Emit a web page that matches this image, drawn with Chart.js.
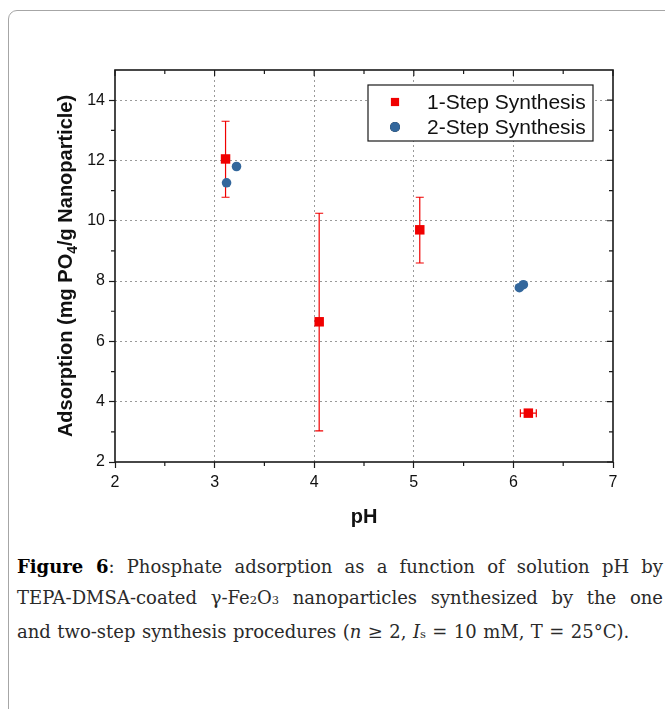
<!DOCTYPE html>
<html>
<head>
<meta charset="utf-8">
<script src="https://cdn.jsdelivr.net/npm/chart.js@4.4.1/dist/chart.umd.min.js"></script>
<style>
  html, body { margin: 0; padding: 0; background: #fff; }
  body { width: 665px; height: 709px; position: relative; overflow: hidden; }
  .frame { position: absolute; left: 8px; top: 10px; width: 720px; height: 760px; border: 1.5px solid #a6a6a6; border-radius: 9px; }
  #wrap { position: absolute; left: 0; top: 0; width: 665px; height: 540px; }
  .caption { position: absolute; left: 17px; top: 551px; width: 646px; font-family: "DejaVu Serif", serif; font-size: 18px; word-spacing: 0.7px; line-height: 31px; color: #2a2a2a; }
  .caption b { color: #000; }
  .caption .j { text-align: justify; text-align-last: justify; }
  .caption sub { font-size: 11.5px; vertical-align: 0; }
</style>
</head>
<body>
<div class="frame"></div>
<div id="wrap"><canvas id="chart" width="665" height="540"></canvas></div>
<div class="caption">
  <div class="j"><b>Figure 6</b>: Phosphate adsorption as a function of solution pH by</div>
  <div class="j">TEPA-DMSA-coated γ-Fe<sub>2</sub>O<sub>3</sub> nanoparticles synthesized by the one</div>
  <div>and two-step synthesis procedures (<i>n</i> ≥ 2, <i>I</i><sub>s</sub> = 10 mM, T = 25°C).</div>
</div>
<script>
// values
const seriesNames = ['1-Step Synthesis', '2-Step Synthesis'];
const oneStepPH = [3.11, 4.05, 5.06, 6.15];
const oneStepAds = [12.05, 6.65, 9.7, 3.62];
const oneStepLow = [10.78, 3.03, 8.6, 3.62];
const oneStepHigh = [13.3, 10.25, 10.78, 3.62];
const oneStepPHErr = [0, 0, 0, 0.08];
const twoStepPH = [3.12, 3.22, 6.06, 6.1];
const twoStepAds = [11.26, 11.8, 7.78, 7.88];
const xMinorTicks = [2.5, 3.5, 4.5, 5.5, 6.5];
const xMajorTicks = [2, 3, 4, 5, 6, 7];
const yMinorTicks = [3, 5, 7, 9, 11, 13];
const yMajorTicks = [2, 4, 6, 8, 10, 12, 14];

const RED = '#f00000';
const BLUE = '#33679c';
const AXIS = '#1a1a1a';
const GRID = '#9a9a9a';

function pts(xs, ys) {
  return xs.map((x, i) => ({ x, y: ys[i] }));
}

// error bars for the 1-step series
const errorBars = {
  id: 'errorBars',
  beforeDatasetsDraw(chart) {
    const { ctx, scales: { x, y } } = chart;
    ctx.save();
    ctx.strokeStyle = RED;
    ctx.lineWidth = 1.2;
    const cap = 4;
    oneStepPH.forEach((ph, i) => {
      const px = x.getPixelForValue(ph);
      const py = y.getPixelForValue(oneStepAds[i]);
      if (oneStepHigh[i] !== oneStepLow[i]) {
        const top = y.getPixelForValue(oneStepHigh[i]);
        const bot = y.getPixelForValue(oneStepLow[i]);
        ctx.beginPath();
        ctx.moveTo(px, top); ctx.lineTo(px, bot);
        ctx.moveTo(px - cap, top); ctx.lineTo(px + cap, top);
        ctx.moveTo(px - cap, bot); ctx.lineTo(px + cap, bot);
        ctx.stroke();
      }
      if (oneStepPHErr[i] > 0) {
        const l = x.getPixelForValue(ph - oneStepPHErr[i]);
        const r = x.getPixelForValue(ph + oneStepPHErr[i]);
        ctx.beginPath();
        ctx.moveTo(l, py); ctx.lineTo(r, py);
        ctx.moveTo(l, py - cap); ctx.lineTo(l, py + cap);
        ctx.moveTo(r, py - cap); ctx.lineTo(r, py + cap);
        ctx.stroke();
      }
    });
    ctx.restore();
  }
};

// frame, minor ticks, mirrored ticks, axis titles, legend
const decorations = {
  id: 'decorations',
  afterDraw(chart) {
    const { ctx, chartArea: a, scales: { x, y } } = chart;
    ctx.save();
    ctx.strokeStyle = AXIS;
    ctx.lineWidth = 1.2;
    ctx.beginPath();
    xMinorTicks.forEach(v => {
      const px = x.getPixelForValue(v);
      ctx.moveTo(px, a.bottom); ctx.lineTo(px, a.bottom + 4);
      ctx.moveTo(px, a.top); ctx.lineTo(px, a.top + 4);
    });
    xMajorTicks.forEach(v => {
      const px = x.getPixelForValue(v);
      ctx.moveTo(px, a.top); ctx.lineTo(px, a.top + 6);
    });
    yMinorTicks.forEach(v => {
      const py = y.getPixelForValue(v);
      ctx.moveTo(a.left, py); ctx.lineTo(a.left - 4, py);
      ctx.moveTo(a.right, py); ctx.lineTo(a.right - 4, py);
    });
    yMajorTicks.forEach(v => {
      const py = y.getPixelForValue(v);
      ctx.moveTo(a.right, py); ctx.lineTo(a.right - 6, py);
    });
    ctx.stroke();

    ctx.lineWidth = 1.6;
    ctx.strokeRect(a.left, a.top, a.right - a.left, a.bottom - a.top);

    // x title
    ctx.fillStyle = '#111';
    ctx.font = 'bold 20px "Liberation Sans", Arial, sans-serif';
    ctx.textAlign = 'center';
    ctx.textBaseline = 'alphabetic';
    ctx.fillText('pH', (a.left + a.right) / 2, 523);

    // y title with subscript
    const main = 'bold 20px "Liberation Sans", Arial, sans-serif';
    const sub = 'bold 14px "Liberation Sans", Arial, sans-serif';
    const p1 = 'Adsorption (mg PO', p2 = '4', p3 = '/g Nanoparticle)';
    ctx.font = main; const w1 = ctx.measureText(p1).width; const w3 = ctx.measureText(p3).width;
    ctx.font = sub; const w2 = ctx.measureText(p2).width;
    const total = w1 + w2 + w3;
    ctx.translate(72, (a.top + a.bottom) / 2);
    ctx.rotate(-Math.PI / 2);
    ctx.textAlign = 'left';
    let cx = -total / 2;
    ctx.font = main; ctx.fillText(p1, cx, 0); cx += w1;
    ctx.font = sub; ctx.fillText(p2, cx, 5); cx += w2;
    ctx.font = main; ctx.fillText(p3, cx, 0);
    ctx.restore();

    // legend box inside the plot
    ctx.save();
    const bx = 368, by = 85, bw = 225, bh = 56;
    ctx.fillStyle = '#fff';
    ctx.fillRect(bx, by, bw, bh);
    ctx.strokeStyle = AXIS;
    ctx.lineWidth = 1.2;
    ctx.strokeRect(bx, by, bw, bh);
    ctx.font = '21px "Liberation Sans", Arial, sans-serif';
    ctx.textBaseline = 'middle';
    ctx.textAlign = 'left';
    chart.data.datasets.forEach((ds, i) => {
      const ly = by + 17 + i * 25;
      Chart.helpers.drawPoint(ctx, {
        pointStyle: ds.pointStyle, radius: ds.pointStyle === 'rect' ? 5.8 : 5,
        rotation: 0, borderWidth: 0
      }, bx + 27, ly);
      ctx.fillStyle = ds.backgroundColor;
      ctx.fill();
      ctx.fillStyle = '#111';
      ctx.fillText(ds.label, bx + 59, ly + 1);
    });
    ctx.restore();
  }
};

new Chart(document.getElementById('chart'), {
  type: 'scatter',
  data: {
    datasets: [
      {
        label: seriesNames[0], data: pts(oneStepPH, oneStepAds),
        pointStyle: 'rect', pointRadius: 6.7, backgroundColor: RED, borderColor: RED, borderWidth: 0
      },
      {
        label: seriesNames[1], data: pts(twoStepPH, twoStepAds),
        pointStyle: 'circle', pointRadius: 4.8, backgroundColor: BLUE, borderColor: BLUE, borderWidth: 0
      }
    ]
  },
  options: {
    responsive: false,
    animation: false,
    devicePixelRatio: 1,
    layout: { padding: { top: 70, right: 52, left: 0, bottom: 0 } },
    plugins: { legend: { display: false }, tooltip: { enabled: false } },
    scales: {
      x: {
        type: 'linear', min: 2, max: 7,
        afterFit: s => { s.height = 78; },
        ticks: { stepSize: 1, color: '#111', padding: 5, font: { family: '"Liberation Sans", Arial', size: 16 } },
        grid: {
          color: c => (c.tick && (c.tick.value === 2 || c.tick.value === 7)) ? 'rgba(0,0,0,0)' : GRID,
          lineWidth: 1, tickColor: AXIS, tickLength: 6, tickWidth: 1.2
        },
        border: { display: false, dash: [2, 3] }
      },
      y: {
        type: 'linear', min: 2, max: 15,
        afterFit: s => { s.width = 115; },
        ticks: { stepSize: 2, includeBounds: false, color: '#111', padding: 4, font: { family: '"Liberation Sans", Arial', size: 16 } },
        grid: {
          color: c => (c.tick && (c.tick.value === 2 || c.tick.value === 15)) ? 'rgba(0,0,0,0)' : GRID,
          lineWidth: 1, tickColor: AXIS, tickLength: 6, tickWidth: 1.2
        },
        border: { display: false, dash: [2, 3] }
      }
    }
  },
  plugins: [errorBars, decorations]
});
</script>
</body>
</html>
